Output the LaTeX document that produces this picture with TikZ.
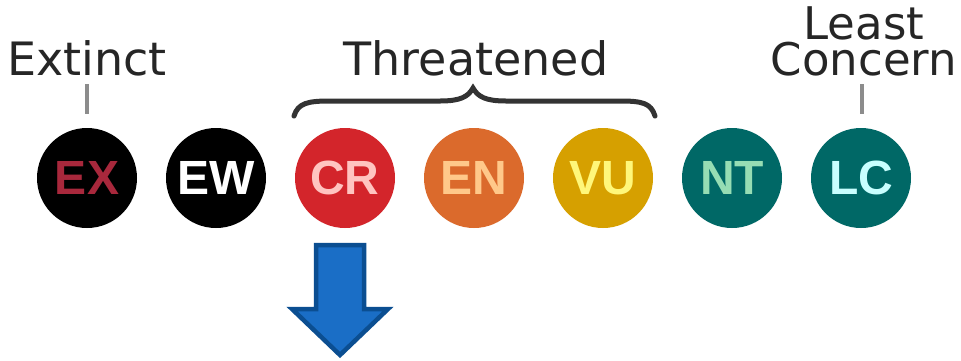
\documentclass[tikz,border=0pt]{standalone}
\usepackage{fontspec}
\setmainfont{DejaVu Sans}
\newfontfamily\badgefont{Liberation Sans}
\begin{document}
\begin{tikzpicture}[x=1pt,y=-1pt,
  badge/.style={circle,minimum size=100pt,inner sep=0pt,fill=#1},
  badgetxt/.style={font=\badgefont\fontsize{48}{48}\selectfont\bfseries},
  lbl/.style={anchor=base,inner sep=0pt,text=black!85,font=\fontsize{46}{33}\selectfont},
  tick/.style={draw=black!45,line width=4pt},
  bracepath/.style={draw=black!80,line width=5pt,line cap=round}
]
\useasboundingbox (0,0) rectangle (961,360);
\fill[white] (0,0) rectangle (961,360);
\definecolor{exred}{HTML}{A8283C}
\definecolor{crfill}{HTML}{D3252B}
\definecolor{crtxt}{HTML}{FFC4C0}
\definecolor{enfill}{HTML}{DB6A2C}
\definecolor{entxt}{HTML}{FFC88A}
\definecolor{vufill}{HTML}{D6A000}
\definecolor{vutxt}{HTML}{FFF77A}
\definecolor{tealfill}{HTML}{006866}
\definecolor{nttxt}{HTML}{96DDB4}
\definecolor{lctxt}{HTML}{C8FFFF}
\definecolor{arrowfill}{HTML}{1A6EC6}
\definecolor{arrowedge}{HTML}{0B4E91}

\node[badge=black, badgetxt, text=exred] (ex) at (87,178) {EX};
\node[badge=black, badgetxt, text=white] (ew) at (216,178) {EW};
\node[badge=crfill, badgetxt, text=crtxt] (cr) at (345,178) {CR};
\node[badge=enfill, badgetxt, text=entxt] (en) at (474,178) {EN};
\node[badge=vufill, badgetxt, text=vutxt] (vu) at (603,178) {VU};
\node[badge=tealfill, badgetxt, text=nttxt] (nt) at (732,178) {NT};
\node[badge=tealfill, badgetxt, text=lctxt] (lc) at (861,178) {LC};

\node[lbl] (extinct) at (87,75) {Extinct};
\node[lbl] (threat) at (476,75) {Threatened};
\node[lbl,align=center,font=\fontsize{45}{34}\selectfont] (lconcern) at (864,75) {Least\\Concern};

\coordinate (t1a) at (87,84);
\coordinate (t1b) at (87,114);
\coordinate (t2a) at (862,84);
\coordinate (t2b) at (862,114);
\draw[tick] (t1a) -- (t1b);
\draw[tick] (t2a) -- (t2b);

\coordinate (bl) at (294,116);
\coordinate (bm) at (473,88);
\coordinate (br) at (655,116);
\draw[bracepath] (bl) .. controls (298,103) and (308,101) .. (330,101)
  -- (440,101) .. controls (460,101) and (468,97) .. (bm)
  .. controls (478,97) and (486,101) .. (506,101)
  -- (620,101) .. controls (642,101) and (651,103) .. (br);

\draw[fill=arrowfill,draw=arrowedge,line width=4.5pt,line join=miter]
  (316,245) -- (364,245) -- (364,309) -- (388,309) -- (340,355)
  -- (292,309) -- (316,309) -- cycle;
\end{tikzpicture}
\end{document}
